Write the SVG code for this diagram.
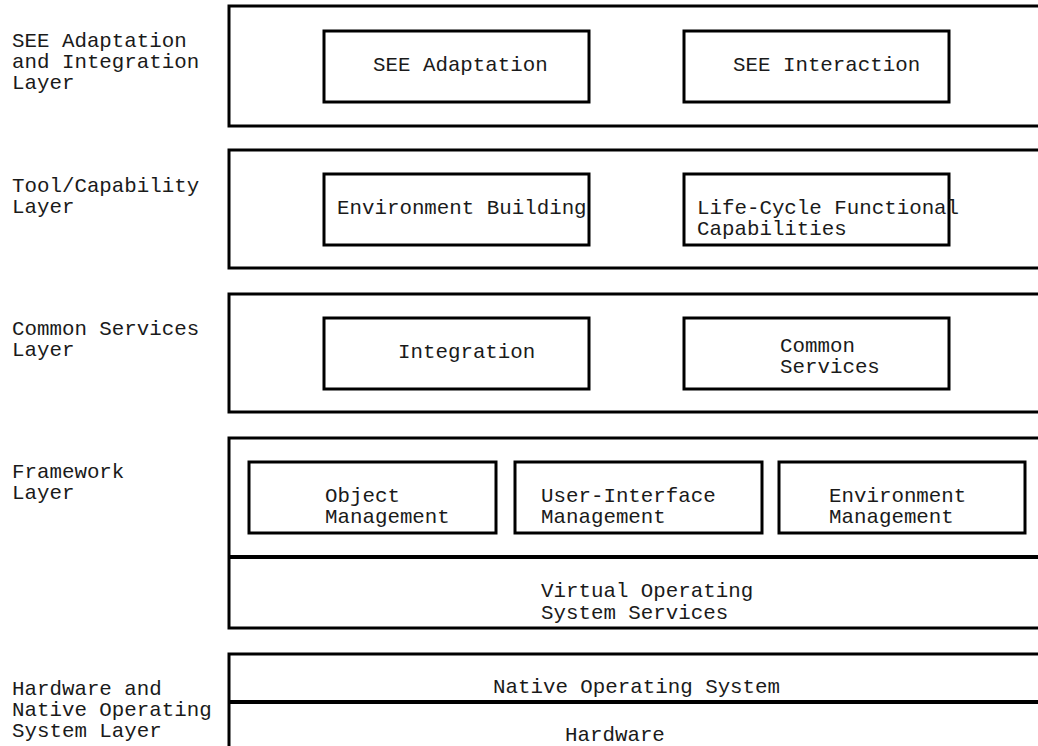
<svg xmlns="http://www.w3.org/2000/svg" width="1038" height="746" viewBox="0 0 1038 746">
  <style>
    text { font-family: "Liberation Mono", "Courier New", monospace; font-size: 20.8px; fill: #1a1a1a; }
    .layer { fill: #ffffff; stroke: #000000; stroke-width: 3; }
    .box { fill: #ffffff; stroke: #000000; stroke-width: 3; }
    .divider { stroke: #000000; stroke-width: 4; fill: none; }
  </style>
  <rect width="1038" height="746" fill="#ffffff"/>

  <!-- Layer names down the left margin -->
  <g id="layer-labels">
    <text x="12" y="47">SEE Adaptation</text>
    <text x="12" y="68">and Integration</text>
    <text x="12" y="89">Layer</text>
    <text x="12" y="192">Tool/Capability</text>
    <text x="12" y="213">Layer</text>
    <text x="12" y="335">Common Services</text>
    <text x="12" y="356">Layer</text>
    <text x="12" y="478">Framework</text>
    <text x="12" y="499">Layer</text>
    <text x="12" y="695">Hardware and</text>
    <text x="12" y="716">Native Operating</text>
    <text x="12" y="737">System Layer</text>
  </g>

  <!-- SEE adaptation and integration layer -->
  <g id="layer-see">
    <rect class="layer" x="229" y="6" width="820" height="120"/>
  </g>
  <g id="see-adaptation">
    <rect class="box" x="324" y="31" width="265" height="71"/>
    <text x="373" y="71">SEE Adaptation</text>
  </g>
  <g id="see-interaction">
    <rect class="box" x="684" y="31" width="265" height="71"/>
    <text x="733" y="71">SEE Interaction</text>
  </g>

  <!-- Tool / capability layer -->
  <g id="layer-tool">
    <rect class="layer" x="229" y="150" width="820" height="118"/>
  </g>
  <g id="environment-building">
    <rect class="box" x="324" y="174" width="265" height="71"/>
    <text x="337" y="214">Environment Building</text>
  </g>
  <g id="life-cycle">
    <rect class="box" x="684" y="174" width="265" height="71"/>
    <text x="697" y="214">Life-Cycle Functional</text>
    <text x="697" y="235">Capabilities</text>
  </g>

  <!-- Common services layer -->
  <g id="layer-common">
    <rect class="layer" x="229" y="294" width="820" height="118"/>
  </g>
  <g id="integration">
    <rect class="box" x="324" y="318" width="265" height="71"/>
    <text x="398" y="358">Integration</text>
  </g>
  <g id="common-services">
    <rect class="box" x="684" y="318" width="265" height="71"/>
    <text x="780" y="352">Common</text>
    <text x="780" y="373">Services</text>
  </g>

  <!-- Framework layer -->
  <g id="layer-framework">
    <rect class="layer" x="229" y="438" width="820" height="190"/>
  </g>
  <g id="object-management">
    <rect class="box" x="249" y="462" width="247" height="71"/>
    <text x="325" y="502">Object</text>
    <text x="325" y="523">Management</text>
  </g>
  <g id="ui-management">
    <rect class="box" x="515" y="462" width="247" height="71"/>
    <text x="541" y="502">User-Interface</text>
    <text x="541" y="523">Management</text>
  </g>
  <g id="environment-management">
    <rect class="box" x="779" y="462" width="246" height="71"/>
    <text x="829" y="502">Environment</text>
    <text x="829" y="523">Management</text>
  </g>
  <g id="virtual-os">
    <line class="divider" x1="229" y1="557" x2="1049" y2="557"/>
    <text x="541" y="597">Virtual Operating</text>
    <text x="541" y="619">System Services</text>
  </g>

  <!-- Hardware and native operating system layer -->
  <g id="layer-hardware">
    <rect class="layer" x="229" y="654" width="820" height="120"/>
  </g>
  <g id="native-os">
    <text x="493" y="693">Native Operating System</text>
    <line class="divider" x1="229" y1="702" x2="1049" y2="702"/>
  </g>
  <g id="hardware">
    <text x="565" y="741">Hardware</text>
  </g>

  <g id="connectors"/>
</svg>
